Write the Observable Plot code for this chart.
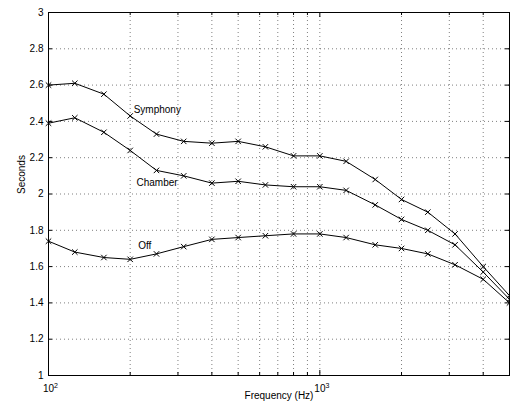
<!DOCTYPE html>
<html><head><meta charset="utf-8">
<script src="https://cdn.jsdelivr.net/npm/d3@7"></script>
<script src="https://cdn.jsdelivr.net/npm/@observablehq/plot@0.6"></script>
<style>html,body{margin:0;padding:0;background:#fff}</style>
</head><body><div id="chart"></div>
<script>
const freqs = [100,125,160,200,250,315,400,500,630,800,1000,1250,1600,2000,2500,3150,4000,5000];
const symphony = [2.60,2.61,2.55,2.43,2.33,2.29,2.28,2.29,2.26,2.21,2.21,2.18,2.08,1.97,1.90,1.78,1.60,1.44];
const chamber  = [2.39,2.42,2.34,2.24,2.13,2.10,2.06,2.07,2.05,2.04,2.04,2.02,1.94,1.86,1.80,1.72,1.57,1.42];
const off      = [1.74,1.68,1.65,1.64,1.67,1.71,1.75,1.76,1.77,1.78,1.78,1.76,1.72,1.70,1.67,1.61,1.53,1.40];
const seriesNames = ["Symphony","Chamber","Off"];
const labelFreqs = [206, 211, 214];
const labelValues = [2.463, 2.063, 1.714];
const yTicks = [1,1.2,1.4,1.6,1.8,2,2.2,2.4,2.6,2.8,3];
const xMajor = [100, 1000];
const xMajorBase = ["10", "10"];
const xMajorExp = ["2", "3"];
const xMinor = [200,300,400,500,600,700,800,900,2000,3000,4000];

const seriesValues = [symphony, chamber, off];
const rows = seriesNames.flatMap((name, k) => freqs.map((f, i) => ({series: name, freq: f, value: seriesValues[k][i]})));
const labels = seriesNames.map((name, k) => ({text: name, freq: labelFreqs[k], value: labelValues[k]}));

const W = 510, H = 405, mL = 48, mR = 1, mT = 12, mB = 30;
const innerW = W - mL - mR, innerH = H - mT - mB;
const gridStyle = {stroke: "#000", strokeOpacity: 0.5, strokeDasharray: "1,3"};

const chart = Plot.plot({
  width: W, height: H,
  marginLeft: mL, marginRight: mR, marginTop: mT, marginBottom: mB,
  style: {fontFamily: "'Liberation Sans', Arial, Helvetica, sans-serif", fontSize: "10px", background: "#fff", color: "#000"},
  x: {type: "log", domain: [100, 5000], axis: null},
  y: {domain: [1, 3], axis: null},
  marks: [
    Plot.ruleX([...xMinor, ...xMajor], gridStyle),
    Plot.ruleY(yTicks, gridStyle),
    Plot.frame({stroke: "#000", strokeWidth: 1}),
    Plot.tickY(yTicks, {y: d => d, stroke: "#000", insetRight: innerW - 4}),
    Plot.tickY(yTicks, {y: d => d, stroke: "#000", insetLeft: innerW - 4}),
    Plot.tickX(xMajor, {x: d => d, stroke: "#000", insetTop: innerH - 5}),
    Plot.tickX(xMinor, {x: d => d, stroke: "#000", insetTop: innerH - 3}),
    Plot.tickX(xMajor, {x: d => d, stroke: "#000", insetBottom: innerH - 5}),
    Plot.tickX(xMinor, {x: d => d, stroke: "#000", insetBottom: innerH - 3}),
    Plot.text(yTicks, {y: d => d, frameAnchor: "left", textAnchor: "end", dx: -5, text: d => String(d)}),
    Plot.text(xMajor, {x: d => d, frameAnchor: "bottom", lineAnchor: "top", dy: 9, dx: 2, text: (d, i) => xMajorBase[i] + "^" + xMajorExp[i], className: "xmajor"}),
    Plot.line(rows, {x: "freq", y: "value", z: "series", stroke: "#000", strokeWidth: 1}),
    Plot.dot(rows, {x: "freq", y: "value", symbol: "times", r: 2.6, stroke: "#000", strokeWidth: 1}),
    Plot.text(labels, {x: "freq", y: "value", text: "text", textAnchor: "start"}),
    Plot.text(["Seconds"], {frameAnchor: "left", rotate: -90, dx: -27}),
    Plot.text(["Frequency (Hz)"], {frameAnchor: "bottom", dy: 23})
  ]
});
// turn "10^2" into a base with a raised exponent
d3.select(chart).selectAll("text").each(function () {
  const t = this.textContent;
  if (/^\d+\^\d+$/.test(t)) {
    const [b, e] = t.split("^");
    const sel = d3.select(this);
    sel.text(b);
    sel.append("tspan").attr("dy", "-4").attr("font-size", "7px").text(e);
  }
});
document.getElementById("chart").append(chart);
</script>
</body></html>
